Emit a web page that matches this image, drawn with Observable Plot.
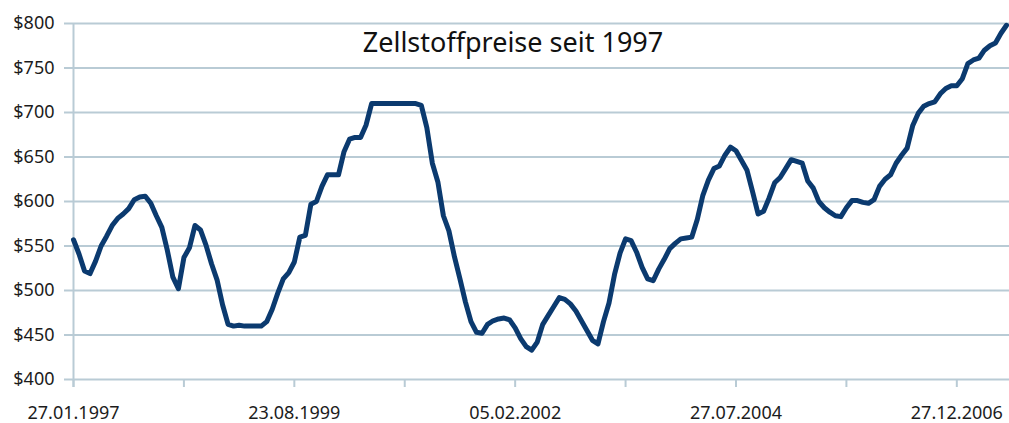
<!DOCTYPE html>
<html>
<head>
<meta charset="utf-8">
<script src="https://cdn.jsdelivr.net/npm/d3@7"></script>
<script src="https://cdn.jsdelivr.net/npm/@observablehq/plot@0.6"></script>
<style>
  html, body { margin: 0; padding: 0; background: #fff; }
  #chart svg { display: block; }
</style>
</head>
<body>
<div id="chart"></div>
<script>
// Chart title
const title = "Zellstoffpreise seit 1997";

// Pulp price (USD per tonne), equally spaced observations from 27.01.1997 on
const prices = [
  557, 541, 522, 519, 533, 550, 561, 573, 581, 586,
  592, 602, 605, 606, 598, 584, 571, 545, 515, 502,
  537, 548, 573, 568, 551, 530, 512, 484, 462, 460,
  461, 460, 460, 460, 460, 465, 479, 497, 513, 520,
  532, 560, 562, 597, 600, 617, 630, 630, 630, 656,
  670, 672, 672, 686, 710, 710, 710, 710, 710, 710,
  710, 710, 710, 708, 683, 643, 622, 584, 567, 538,
  513, 487, 465, 453, 452, 462, 466, 468, 469, 467,
  458, 446, 437, 433, 442, 462, 472, 482, 492, 490,
  485, 477, 466, 455, 444, 440, 465, 486, 518, 542,
  558, 556, 543, 526, 513, 511, 524, 535, 547, 553,
  558, 559, 560, 580, 607, 624, 637, 640, 652, 661,
  657, 646, 635, 611, 586, 589, 604, 621, 627, 637,
  647, 645, 643, 623, 615, 600, 593, 588, 584, 583,
  593, 601, 601, 599, 598, 602, 617, 625, 630, 643,
  652, 660, 685, 699, 707, 710, 712, 721, 727, 730,
  730, 738, 755, 759, 761, 770, 775, 778, 789, 798
];

// Category-axis ticks (observation index) and their labels
const tickIndex = [0, 20, 40, 60, 80, 100, 120, 140, 160];
const tickLabels = ["27.01.1997", "", "23.08.1999", "", "05.02.2002", "", "27.07.2004", "", "27.12.2006"];

// Value axis ticks
const yTicks = [400, 450, 500, 550, 600, 650, 700, 750, 800];

const data = prices.map((v, i) => ({i, v}));
const labelOf = new Map(tickIndex.map((t, k) => [t, tickLabels[k]]));

const grid = "#b9cbd5";
const ink = "#1c1c1c";
const lineColor = "#0b3a6f";
const font = "'Noto Sans', 'Open Sans', sans-serif";

const chart = Plot.plot({
  width: 1009,
  height: 423,
  marginLeft: 73,
  marginRight: 3,
  marginTop: 23,
  marginBottom: 44,
  style: {fontFamily: font, fontSize: "18px", color: ink, background: "#fff"},
  x: {type: "linear", domain: [0, prices.length - 1]},
  y: {domain: [400, 800]},
  marks: [
    Plot.ruleY(yTicks, {stroke: grid, strokeWidth: 2, insetLeft: -9, insetRight: -3}),
    Plot.ruleX([0], {stroke: grid, strokeWidth: 2, insetBottom: -8}),
    Plot.axisY({
      ticks: yTicks, tickSize: 0, tickPadding: 19,
      tickFormat: d => "$" + d, fill: ink, fontSize: 18, label: null
    }),
    Plot.axisX({
      ticks: tickIndex, tickSize: 8, tickPadding: 19,
      tickFormat: d => labelOf.get(d) ?? "",
      stroke: grid, strokeWidth: 2, fill: ink, fontSize: 18, label: null
    }),
    Plot.text([title], {
      frameAnchor: "top", lineAnchor: "top", dx: -27, dy: 9,
      fontSize: 27, fill: "#111", fontFamily: font
    }),
    Plot.line(data, {
      x: "i", y: "v", stroke: lineColor, strokeWidth: 5,
      strokeLinejoin: "round", strokeLinecap: "round"
    })
  ]
});

document.getElementById("chart").appendChild(chart);
</script>
</body>
</html>
